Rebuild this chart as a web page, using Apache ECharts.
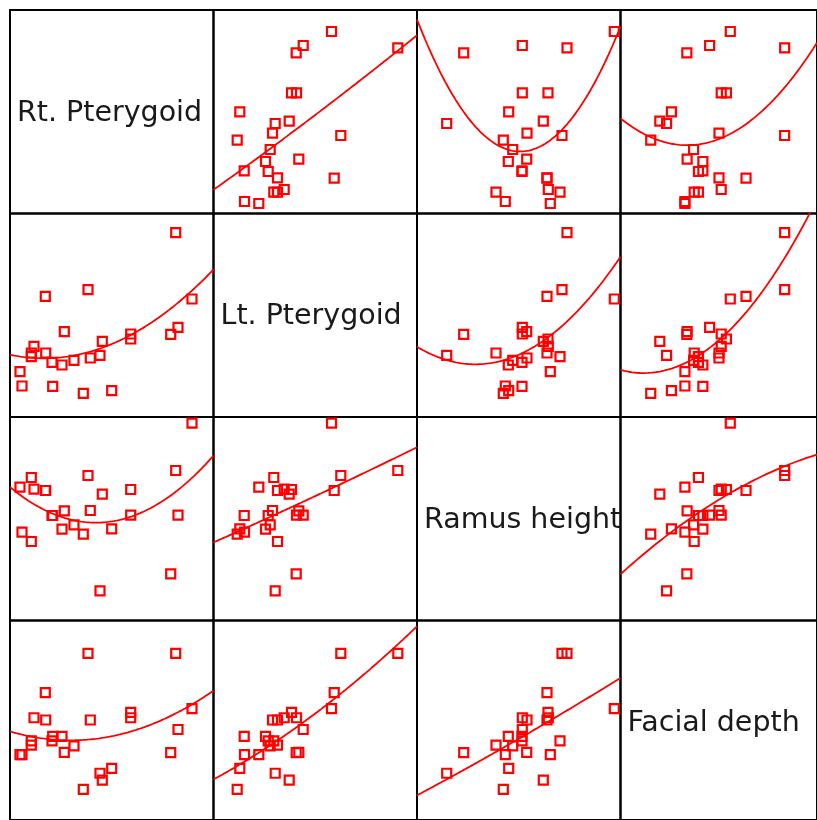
<!DOCTYPE html>
<html><head><meta charset="utf-8">
<script src="https://cdn.jsdelivr.net/npm/echarts@6/dist/echarts.min.js"></script>
<style>html,body{margin:0;padding:0;background:#fff}#c{width:817px;height:820px}</style>
</head><body><div id="c"></div>
<script>
// Variable names (diagonal labels)
const variableNames = ['Rt. Pterygoid', 'Lt. Pterygoid', 'Ramus height', 'Facial depth'];

const rtPterygoid = [182, 168, 165.7, 160.7, 120.7, 120.7, 101.7, 92.3, 90, 80.3, 78, 73.3, 64, 54.3, 52, 42.7, 42, 35.7, 35.3, 24, 21.3, 21.3, 12, 10];
const ltPterygoid = [118, 89.7, 184.3, 82.7, 78, 83, 26.3, 75.7, 61.7, 59, 127.3, 23.7, 56.7, 85.3, 52, 30.7, 54.7, 64, 120.7, 70.7, 60.3, 64, 31, 45.3];
const ramusHeight = [197.3, 105.3, 150, 46.7, 131, 105.3, 91.7, 126.3, 29.7, 110, 145, 86.3, 95.7, 109.7, 91.3, 105, 105, 130, 130, 131.3, 143, 79, 88.3, 133.3];
const facialDepth = [113.7, 92.3, 170, 68.7, 109.7, 104.3, 52.7, 40.7, 47.7, 102, 170, 31.3, 75.7, 69, 85.3, 85.3, 80.7, 102, 130, 104.3, 80.7, 76.3, 66.7, 66.7];

const axisMin = 0, axisMax = 203.5;

const variables = [rtPterygoid, ltPterygoid, ramusHeight, facialDepth];
const cellSize = 203.5, originX = 10, originY = 10;
const RED = '#ff0000';

// Quadratic least-squares fit y = a + b x + c x^2
function quadFit(xs, ys) {
  let n = xs.length, S = [0,0,0,0,0], T = [0,0,0];
  for (let i = 0; i < n; i++) {
    const x = xs[i], y = ys[i];
    let p = 1;
    for (let k = 0; k < 5; k++) { S[k] += p; if (k < 3) T[k] += p * y; p *= x; }
  }
  const M = [[S[0],S[1],S[2],T[0]],[S[1],S[2],S[3],T[1]],[S[2],S[3],S[4],T[2]]];
  for (let i = 0; i < 3; i++) {
    let piv = i;
    for (let j = i+1; j < 3; j++) if (Math.abs(M[j][i]) > Math.abs(M[piv][i])) piv = j;
    [M[i], M[piv]] = [M[piv], M[i]];
    for (let j = 0; j < 3; j++) {
      if (j === i) continue;
      const f = M[j][i] / M[i][i];
      for (let k = i; k < 4; k++) M[j][k] -= f * M[i][k];
    }
  }
  return [M[0][3]/M[0][0], M[1][3]/M[1][1], M[2][3]/M[2][2]];
}

const grids = [], xAxes = [], yAxes = [], series = [], graphics = [];
for (let r = 0; r < 4; r++) {
  for (let c = 0; c < 4; c++) {
    const idx = r * 4 + c;
    grids.push({
      left: originX + c * cellSize, top: originY + r * cellSize,
      width: cellSize, height: cellSize,
      show: true, borderColor: '#000', borderWidth: 2, backgroundColor: 'transparent'
    });
    xAxes.push({ gridIndex: idx, type: 'value', min: axisMin, max: axisMax, show: false });
    yAxes.push({ gridIndex: idx, type: 'value', min: axisMin, max: axisMax, show: false });
    if (r === c) {
      graphics.push({
        type: 'text',
        x: originX + c * cellSize + 7,
        y: originY + r * cellSize + cellSize / 2 + 1.5,
        style: {
          text: variableNames[r], fontFamily: 'DejaVu Sans', fontSize: 28.5,
          fill: '#1a1a1a', align: 'left', verticalAlign: 'middle'
        },
        z: 100
      });
      continue;
    }
    const xs = variables[c], ys = variables[r];
    const pts = xs.map((x, i) => [x, ys[i]]);
    series.push({
      type: 'scatter', xAxisIndex: idx, yAxisIndex: idx, data: pts,
      symbol: 'rect', symbolSize: 9, clip: false,
      itemStyle: { color: 'transparent', borderColor: RED, borderWidth: 2.2, opacity: 1 },
      emphasis: { disabled: true }, z: 3
    });
    const [a, b, q] = quadFit(xs, ys);
    const curve = [];
    const steps = 100;
    for (let k = 0; k <= steps; k++) {
      const x = axisMin + (axisMax - axisMin) * k / steps;
      curve.push([x, a + b * x + q * x * x]);
    }
    series.push({
      type: 'line', xAxisIndex: idx, yAxisIndex: idx, data: curve,
      showSymbol: false, symbol: 'none', clip: true, smooth: false,
      lineStyle: { color: RED, width: 1.8 }, emphasis: { disabled: true }, z: 2
    });
  }
}

const chart = echarts.init(document.getElementById('c'), null, { renderer: 'canvas' });
chart.setOption({
  animation: false,
  backgroundColor: '#fff',
  grid: grids, xAxis: xAxes, yAxis: yAxes, series: series,
  graphic: graphics
});
</script></body></html>
